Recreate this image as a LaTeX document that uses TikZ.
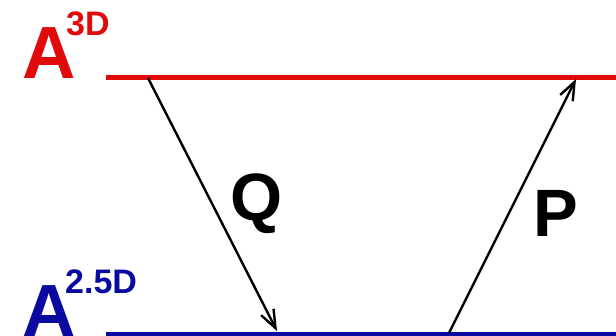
\documentclass[tikz,border=0pt]{standalone}
\usepackage{fontspec}
\setmainfont{Liberation Sans}
\usetikzlibrary{arrows.meta}
\definecolor{levelred}{RGB}{225,10,10}
\definecolor{levelblue}{RGB}{10,10,160}
\tikzset{
  level/.style={line width=5pt},
  map/.style={line width=2.4pt, black, -{Straight Barb[length=18pt, width=14pt, line width=2.4pt]}},
  big/.style={inner sep=0pt, anchor=base west, font=\bfseries\fontsize{74}{74}\selectfont},
  sup/.style={inner sep=0pt, anchor=base west, font=\bfseries\fontsize{34}{34}\selectfont},
  op/.style={inner sep=0pt, font=\bfseries\fontsize{67}{67}\selectfont}
}
\begin{document}
\begin{tikzpicture}[x=1pt, y=-1pt]
    \useasboundingbox (0,0) rectangle (616,335);

    % the two levels
    \coordinate (redL) at (106,77.5);
    \coordinate (redR) at (616,77.5);
    \coordinate (blueL) at (106,334);
    \coordinate (blueR) at (616,334);
    \draw[level, levelred] (redL) -- (redR);
    \draw[level, levelblue, line width=3.5pt] (blueL) -- (blueR);

    % labels
    \node[big, levelred] (a3d) at (22,78) {A};
    \node[sup, levelred] (s3d) at (66,35) {3D};
    \node[big, levelblue] (a25d) at (22,336) {A};
    \node[sup, levelblue] (s25d) at (65,293) {2.5D};

    % maps between the levels
    \coordinate (qTop) at (148,78);
    \coordinate (qBot) at (277,331);
    \coordinate (pBot) at (449,333);
    \coordinate (pTop) at (576,79);
    \draw[map] (qTop) -- (qBot);
    \draw[map] (pBot) -- (pTop);

    \node[op] (q) at (257,204) {Q};
    \node[op] (p) at (556,213) {P};
\end{tikzpicture}
\end{document}
